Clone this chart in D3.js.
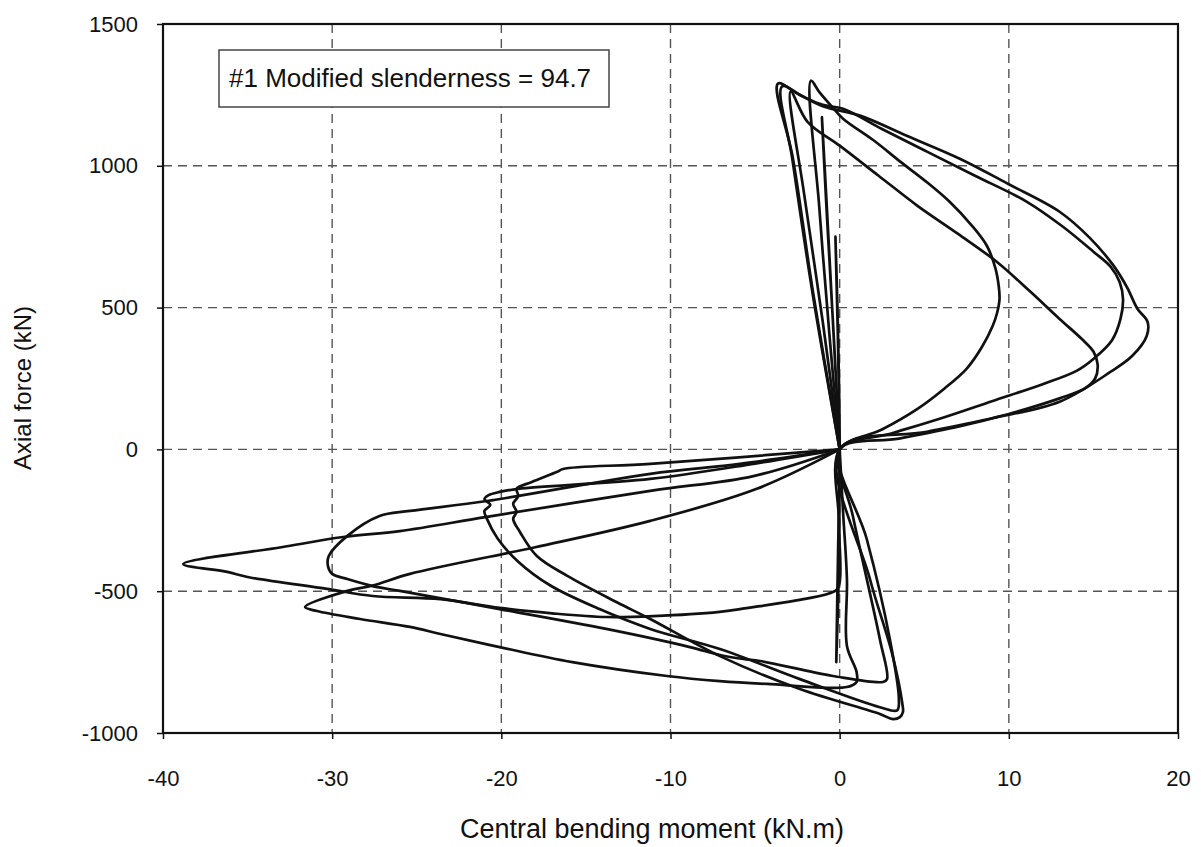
<!DOCTYPE html>
<html>
<head>
<meta charset="utf-8">
<script src="https://cdn.jsdelivr.net/npm/d3@7"></script>
<style>
  body { margin: 0; background: #fff; }
  svg { display: block; }
  text { font-family: "Liberation Sans", Arial, sans-serif; fill: #111; }
</style>
</head>
<body>
<svg id="chart" width="1201" height="847"></svg>
<script>
// Axis ticks
const xTicks = [-40, -30, -20, -10, 0, 10, 20];
const yTicks = [-1000, -500, 0, 500, 1000, 1500];

// Load cycles: [central bending moment (kN.m), axial force (kN)]
const cycle1 = [[0,0],[-0.1,380],[-0.25,750],[-0.1,420],[0,0],[-0.1,-380],[-0.2,-750],[-0.05,-420],[0,0]];

const cycle2 = [[0,0],[-0.35,400],[-0.75,820],[-1.05,1172],[-0.8,900],[-0.4,450],[0,0],
  [0.2,-220],[0.43,-459],[0.43,-693],[1.0,-785],[1.0,-820],[0.43,-838],[-4.3,-827],[-7.08,-817],
  [-10.2,-799],[-15.8,-750],[-20.1,-697],[-23.6,-651],[-25.4,-626],[-28.35,-598],[-30.9,-570],
  [-31.6,-556],[-29.1,-499],[-27.6,-480],[-25.4,-439],[-18,-345],[-11.2,-252],[-4.9,-139],[0,0]];

const cycle3 = [[0,0],[-0.6,400],[-1.2,850],[-1.7,1300],[-1.2,1260],[-0.4,1205],[0.2,1166],[2.0,1090],
  [3.6,1014],[5.2,940],[6.5,873],[7.8,790],[8.7,718],[9.2,640],[9.4,577],[9.45,530],[9.3,480],
  [9.05,436],[8.4,360],[7.5,284],[6.2,215],[4.6,143],[2.5,70],[0,0],
  [-0.05,-250],[-0.05,-482],[-0.4,-503],[-5.9,-563],[-7.1,-573],[-11.0,-588],[-13.8,-591],[-17,-578],
  [-20.1,-559],[-23.6,-528],[-27.6,-517],[-30.3,-492],[-35.0,-450],[-36.2,-432],[-38.8,-404],
  [-33,-345],[-29.35,-309],[-26,-288],[-20.85,-238],[-11.2,-146],[-5.1,-94],[0,0]];

const cycle4 = [[0,0],[-1.0,450],[-2.1,900],[-2.9,1262],[-1.9,1155],[0,1071],[2.3,965],[4.6,859],
  [7,760],[9.3,661],[11.2,560],[13,460],[14.3,390],[15.0,345],[15.25,300],[15.1,250],[14.5,215],
  [13,180],[10,125],[7,80],[3.5,38],[0,0],
  [0.78,-235],[2.38,-670],[2.8,-810],[2.56,-820],[-0.4,-799],[-4.7,-746],[-5.7,-739],[-7.08,-725],
  [-8.85,-697],[-13.8,-633],[-20.1,-563],[-26,-499],[-27.6,-482],[-29.1,-457],[-30.0,-439],
  [-30.25,-411],[-30.2,-376],[-29.1,-305],[-27.2,-235],[-25.4,-217],[-20.85,-182],[-11.2,-86],
  [-5.9,-51],[0,0]];

const cycle5 = [[0,0],[-1.6,550],[-2.8,1025],[-3.4,1280],[-2.2,1245],[-1,1215],[0.2,1201],[2.5,1130],
  [5.16,1050],[8,965],[11.07,873],[13.2,785],[15,697],[16.0,645],[16.55,590],[16.75,530],[16.6,460],
  [16.1,385],[15,319],[14.0,277],[12,230],[9,170],[6,110],[3,55],[0,0],
  [1.6,-316],[2.97,-670],[3.5,-880],[3.4,-920],[2.38,-909],[-2.35,-810],[-7.08,-704],[-11.2,-633],
  [-14.2,-563],[-17.1,-480],[-19.0,-396],[-20.2,-316],[-20.85,-245],[-21.0,-217],[-20.65,-196],
  [-21.0,-175],[-20.75,-161],[-20.1,-150],[-19.0,-139],[-11.2,-104],[-5,-50],[0,0]];

const cycle6 = [[0,0],[-1.58,556],[-2.76,1025],[-3.65,1290],[-2.5,1255],[-1,1210],[1.2,1177],[4,1105],
  [7.1,1025],[10,935],[13,838],[14.8,745],[16.2,647],[17.0,570],[17.6,496],[18.2,450],[18.15,400],
  [17.3,330],[16.0,273],[13.0,168],[9,110],[5.16,62],[0,0],
  [1.79,-457],[3.1,-720],[3.7,-895],[3.74,-926],[3.56,-944],[3.15,-951],[2.38,-933],[-2.35,-845],
  [-7.08,-729],[-11.2,-598],[-13.2,-538],[-16.1,-446],[-17.9,-376],[-18.9,-291],[-19.3,-245],
  [-19.1,-220],[-19.3,-192],[-19.0,-164],[-19.1,-139],[-18.2,-115],[-16.7,-79],[-16.35,-69],
  [-11.2,-51],[0,0]];

const cycles = [cycle1, cycle2, cycle3, cycle4, cycle5, cycle6];

const labelText = "#1 Modified slenderness = 94.7";
const xTitle = "Central bending moment (kN.m)";
const yTitle = "Axial force (kN)";

const svg = d3.select("#chart");
const plot = { left: 163, right: 1178, top: 24, bottom: 733 };

const x = d3.scaleLinear().domain([-40, 20]).range([plot.left, plot.right]);
const y = d3.scaleLinear().domain([-1000, 1500]).range([plot.bottom, plot.top]);

svg.append("rect").attr("width", 1201).attr("height", 847).attr("fill", "#fff");

// dashed grid
const grid = svg.append("g").attr("stroke", "#555").attr("stroke-width", 1.4).attr("stroke-dasharray", "9,6");
grid.selectAll("line.v").data(xTicks.slice(1, -1)).join("line")
  .attr("x1", d => x(d)).attr("x2", d => x(d)).attr("y1", plot.top).attr("y2", plot.bottom);
grid.selectAll("line.h").data(yTicks.slice(1, -1)).join("line")
  .attr("x1", plot.left).attr("x2", plot.right).attr("y1", d => y(d)).attr("y2", d => y(d));

// axes (plain hyphen for negative numbers)
const fmt = d => String(d);
const xAxis = svg.append("g").attr("transform", `translate(0,${plot.bottom})`)
  .call(d3.axisBottom(x).tickValues(xTicks).tickSize(6).tickPadding(31).tickFormat(fmt));
const yAxis = svg.append("g").attr("transform", `translate(${plot.left},0)`)
  .call(d3.axisLeft(y).tickValues(yTicks).tickSize(6).tickPadding(19).tickFormat(fmt));
[xAxis, yAxis].forEach(a => {
  a.select(".domain").remove();
  a.selectAll(".tick line").attr("stroke", "#111").attr("stroke-width", 1.5);
  a.selectAll(".tick text").attr("font-size", 22).attr("fill", "#111")
    .attr("font-family", "\"Liberation Sans\", Arial, sans-serif");
});

// frame
svg.append("rect").attr("x", plot.left).attr("y", plot.top)
  .attr("width", plot.right - plot.left).attr("height", plot.bottom - plot.top)
  .attr("fill", "none").attr("stroke", "#111").attr("stroke-width", 2.2);

// annotation box
const box = svg.append("g");
box.append("rect").attr("x", 219).attr("y", 50).attr("width", 390).attr("height", 57)
  .attr("fill", "#fff").attr("stroke", "#444").attr("stroke-width", 1.5);
box.append("text").attr("x", 229).attr("y", 87).attr("font-size", 26).text(labelText);

// hysteresis curves
const line = d3.line().x(d => x(d[0])).y(d => y(d[1])).curve(d3.curveCatmullRom.alpha(0.5));
svg.append("g").attr("fill", "none").attr("stroke", "#111").attr("stroke-width", 2.7)
  .attr("stroke-linejoin", "round")
  .selectAll("path").data(cycles).join("path").attr("d", line);

// axis titles
svg.append("text").attr("x", 652).attr("y", 838)
  .attr("text-anchor", "middle").attr("font-size", 27).text(xTitle);
svg.append("text").attr("transform", `translate(31,388) rotate(-90)`)
  .attr("text-anchor", "middle").attr("font-size", 24).text(yTitle);
</script>
</body>
</html>
